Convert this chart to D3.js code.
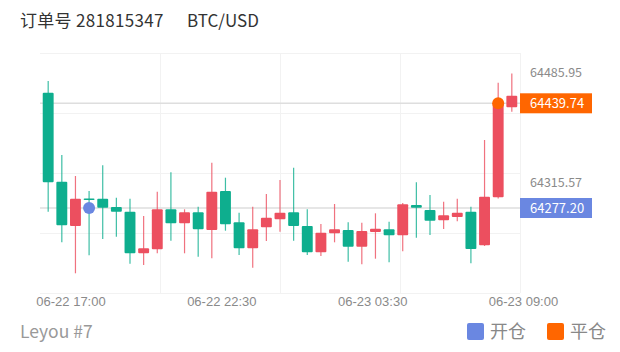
<!DOCTYPE html>
<html><head><meta charset="utf-8">
<script src="https://cdn.jsdelivr.net/npm/d3@7"></script>
<style>
html,body{margin:0;padding:0;background:#fff;}
svg{display:block;font-family:"Microsoft YaHei","Noto Sans CJK SC","Noto Sans",sans-serif;}
</style></head>
<body>
<svg id="c" width="620" height="352"></svg>
<script>
const candles = [0,1,2,3,4,5,6,7,8,9,10,11,12,13,14,15,16,17,18,19,20,21,22,23,24,25,26,27,28,29,30,31,32,33,34];
const opens  = [64456.20,64318.03,64249.26,64291.95,64291.64,64278.75,64271.46,64206.88,64213.09,64275.18,64253.45,64270.53,64243.05,64303.59,64255.00,64214.64,64247.24,64259.66,64270.53,64249.26,64208.43,64237.92,64243.05,64217.12,64239.94,64244.13,64234.82,64281.86,64274.10,64258.11,64263.23,64271.46,64219.29,64293.81,64433.53];
const closes = [64317.10,64250.34,64291.64,64290.40,64277.67,64271.46,64206.88,64214.64,64275.18,64253.45,64270.53,64244.13,64302.51,64251.90,64214.64,64244.13,64262.14,64269.90,64249.26,64208.43,64238.86,64244.13,64217.12,64241.49,64245.07,64234.82,64282.94,64277.67,64257.48,64265.87,64269.90,64213.55,64294.74,64439.74,64451.54];
const highs  = [64474.36,64359.48,64326.88,64303.59,64343.49,64293.19,64291.64,64264.78,64302.51,64332.62,64275.18,64279.22,64347.53,64324.24,64269.90,64279.22,64298.93,64320.67,64339.76,64275.18,64252.36,64283.41,64255.00,64254.38,64268.97,64255.93,64284.96,64317.10,64297.38,64286.98,64291.64,64279.22,64382.77,64471.72,64485.95];
const lows   = [64271.46,64223.95,64175.83,64203.77,64229.08,64232.65,64190.73,64188.71,64206.88,64226.44,64206.88,64201.60,64199.11,64241.96,64204.24,64184.52,64225.97,64240.41,64226.44,64204.24,64202.68,64223.95,64193.84,64189.80,64198.49,64192.90,64209.98,64231.09,64235.28,64244.60,64256.55,64191.35,64218.21,64292.00,64426.70];
const timeLabels = ["06-22 17:00","06-22 22:30","06-23 03:30","06-23 09:00"];
const axisValues = [64485.95, 64315.57];
const openTrade  = {index: 3,  price: 64277.20};
const closeTrade = {index: 33, price: 64439.74};
const legendNames = ["开仓","平仓"];

const UP = "#ec4f5f", DOWN = "#0eae8e", BLUE = "#6a87e1", ORANGE = "#ff6600";
const svg = d3.select("#c");
const L = 40, R = 520, T = 53, B = 293;

const x = d3.scaleBand().domain(candles).range([L, R]).padding(0.2);
const y = d3.scaleLinear().domain([64145.24, 64517.83]).range([B, T]);
const gridX = d3.scaleLinear().domain([0, 4]).range([L, R]);
const gridY = d3.scaleLinear().domain([0, 4]).range([B, T]);
const labelX = d3.scalePoint().domain(timeLabels).range([70.5, 523]);

// title
const title = svg.append("text").attr("x", 20).attr("y", 27).attr("font-size", 17).attr("fill", "#333");
title.append("tspan").text("订单号 281815347").attr("letter-spacing", 0.3);
title.append("tspan").attr("x", 187).text("BTC/USD");

// grid
const g = svg.append("g");
g.selectAll("line.h").data([0,1,2,3,4]).join("line")
  .attr("x1", L).attr("x2", R)
  .attr("y1", d => Math.round(gridY(d)) + 0.5).attr("y2", d => Math.round(gridY(d)) + 0.5)
  .attr("stroke", "#f2f2f2");
g.selectAll("line.v").data([1,2,3,4]).join("line")
  .attr("x1", d => Math.round(gridX(d)) + 0.5).attr("x2", d => Math.round(gridX(d)) + 0.5)
  .attr("y1", T).attr("y2", B)
  .attr("stroke", "#f2f2f2");

// price lines
[openTrade, closeTrade].forEach(t => {
  g.append("line").attr("x1", L).attr("x2", R)
    .attr("y1", y(t.price)).attr("y2", y(t.price))
    .attr("stroke", "#dedede").attr("stroke-width", 1.5);
});

// candles
const cg = svg.append("g");
const data = candles.map((c, i) => ({c, o: opens[i], cl: closes[i], h: highs[i], l: lows[i]}));
const cx = d => x(d.c) + x.bandwidth() / 2;
cg.selectAll("line.wick").data(data).join("line")
  .attr("x1", cx).attr("x2", cx)
  .attr("y1", d => y(d.h)).attr("y2", d => y(d.l))
  .attr("stroke", d => d.cl >= d.o ? UP : DOWN).attr("stroke-opacity", 0.8).attr("stroke-width", 1.2);
cg.selectAll("rect.body").data(data).join("rect")
  .attr("x", d => x(d.c)).attr("width", x.bandwidth())
  .attr("y", d => y(Math.max(d.o, d.cl)))
  .attr("height", d => Math.max(1.5, Math.abs(y(d.o) - y(d.cl))))
  .attr("rx", 1)
  .attr("fill", d => d.cl >= d.o ? UP : DOWN);

// trade markers
svg.append("circle").attr("cx", x(openTrade.index) + x.bandwidth()/2).attr("cy", y(openTrade.price)).attr("r", 6).attr("fill", BLUE);
svg.append("circle").attr("cx", x(closeTrade.index) + x.bandwidth()/2).attr("cy", y(closeTrade.price)).attr("r", 6).attr("fill", ORANGE);

// right axis labels
svg.selectAll("text.ya").data(axisValues).join("text")
  .attr("x", 530).attr("y", d => y(d) - 1).attr("dy", "0.35em")
  .attr("font-size", 12.5).attr("fill", "#8a8a8a").text(d => d.toFixed(2));

// price tags
[[openTrade, BLUE], [closeTrade, ORANGE]].forEach(([t, col]) => {
  svg.append("rect").attr("x", R).attr("y", y(t.price) - 10).attr("width", 72).attr("height", 20).attr("fill", col);
  svg.append("text").attr("x", 530).attr("y", y(t.price)).attr("dy", "0.36em")
    .attr("font-size", 13).attr("fill", "#fff").text(t.price.toFixed(2));
});

// bottom axis
const ax = svg.append("g").attr("transform", `translate(0,${B})`)
  .call(d3.axisBottom(labelX).tickSize(0).tickPadding(4));
ax.select(".domain").remove();
ax.selectAll("text").attr("font-size", 13).attr("fill", "#8a8a8a").attr("font-family", null);

// footer
svg.append("text").attr("x", 20).attr("y", 338).attr("font-size", 17.5).attr("fill", "#999").text("Leyou #7");
const lg = svg.append("g");
[[BLUE, 467, legendNames[0]], [ORANGE, 547, legendNames[1]]].forEach(([col, lx, name]) => {
  lg.append("rect").attr("x", lx).attr("y", 323).attr("width", 17).attr("height", 17).attr("rx", 2).attr("fill", col);
  lg.append("text").attr("x", lx + 23).attr("y", 338).attr("font-size", 18).attr("fill", "#888").text(name);
});
</script>
</body></html>
